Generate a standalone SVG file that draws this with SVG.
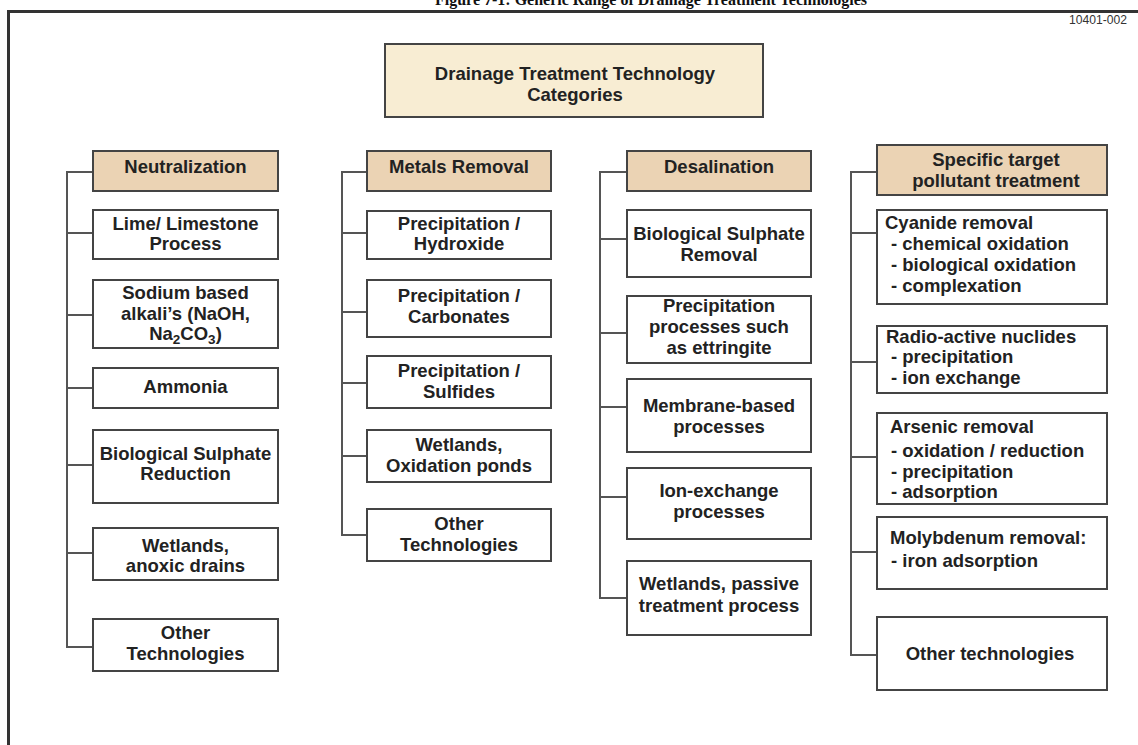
<svg xmlns="http://www.w3.org/2000/svg" width="1138" height="745" viewBox="0 0 1138 745">
<style>
  text { font-family: "Liberation Sans", Arial, sans-serif; font-weight: bold; fill: #222; }
  .t { font-size: 18.5px; text-anchor: middle; }
  .l { font-size: 18.5px; text-anchor: start; }
  .box { fill: #fff; stroke: #444; stroke-width: 2; }
  .hdr { fill: #EBD3B4; stroke: #444; stroke-width: 2; }
  .top { fill: #F8EDD3; stroke: #444; stroke-width: 2; }
  .conn { fill: none; stroke: #555; stroke-width: 2; }
</style>
<rect x="0" y="0" width="1138" height="745" fill="#fff"/>
<text x="651" y="5" style="font-family:'Liberation Serif','Times New Roman',serif;font-size:16px;text-anchor:middle;fill:#111">Figure 7-1: Generic Range of Drainage Treatment Technologies</text>
<path d="M8.5 745 V11.5 H1138" fill="none" stroke="#333" stroke-width="3"/>
<text x="1127" y="24" style="font-weight:normal;font-size:12px;text-anchor:end;fill:#333" textLength="58" lengthAdjust="spacingAndGlyphs">10401-002</text>

<g id="connectors">
  <path class="conn" d="M93 172 H67 V647 H93 M67 233 H93 M67 315 H93 M67 388 H93 M67 465 H93 M67 553 H93"/>
  <path class="conn" d="M367 172 H342 V535 H367 M342 233 H367 M342 312 H367 M342 383 H367 M342 456 H367"/>
  <path class="conn" d="M627 172 H600 V598 H627 M600 239 H627 M600 333 H627 M600 407 H627 M600 497 H627"/>
  <path class="conn" d="M877 172 H851 V655 H877 M851 233 H877 M851 362 H877 M851 457 H877 M851 552 H877"/>
</g>

<g id="root">
  <rect class="top" x="385" y="44" width="378" height="73"/>
  <text class="t" x="575" y="80">Drainage Treatment Technology</text>
  <text class="t" x="575" y="101">Categories</text>
</g>

<!-- Column 1 -->
<g id="neutralization">
  <rect class="hdr" x="93" y="151" width="185" height="40"/>
  <text class="t" x="185.5" y="173">Neutralization</text>
</g>
<g id="lime">
  <rect class="box" x="93" y="210" width="185" height="49"/>
  <text class="t" x="185.5" y="230">Lime/ Limestone</text>
  <text class="t" x="185.5" y="250">Process</text>
</g>
<g id="sodium">
  <rect class="box" x="93" y="280" width="185" height="68"/>
  <text class="t" x="185.5" y="299">Sodium based</text>
  <text class="t" x="185.5" y="320">alkali’s (NaOH,</text>
  <text class="t" x="185.5" y="340">Na<tspan font-size="13.5" dy="4">2</tspan><tspan dy="-4">CO</tspan><tspan font-size="13.5" dy="4">3</tspan><tspan dy="-4">)</tspan></text>
</g>
<g id="ammonia">
  <rect class="box" x="93" y="368" width="185" height="40"/>
  <text class="t" x="185.5" y="393">Ammonia</text>
</g>
<g id="bsr">
  <rect class="box" x="93" y="430" width="185" height="73"/>
  <text class="t" x="185.5" y="460">Biological Sulphate</text>
  <text class="t" x="185.5" y="480">Reduction</text>
</g>
<g id="wetlands1">
  <rect class="box" x="93" y="528" width="185" height="52"/>
  <text class="t" x="185.5" y="552">Wetlands,</text>
  <text class="t" x="185.5" y="572">anoxic drains</text>
</g>
<g id="other1">
  <rect class="box" x="93" y="619" width="185" height="52"/>
  <text class="t" x="185.5" y="639">Other</text>
  <text class="t" x="185.5" y="660">Technologies</text>
</g>

<!-- Column 2 -->
<g id="metals">
  <rect class="hdr" x="367" y="151" width="184" height="40"/>
  <text class="t" x="459" y="173">Metals Removal</text>
</g>
<g id="hydroxide">
  <rect class="box" x="367" y="211" width="184" height="48"/>
  <text class="t" x="459" y="230">Precipitation /</text>
  <text class="t" x="459" y="250">Hydroxide</text>
</g>
<g id="carbonates">
  <rect class="box" x="367" y="280" width="184" height="57"/>
  <text class="t" x="459" y="302">Precipitation /</text>
  <text class="t" x="459" y="323">Carbonates</text>
</g>
<g id="sulfides">
  <rect class="box" x="367" y="356" width="184" height="52"/>
  <text class="t" x="459" y="377">Precipitation /</text>
  <text class="t" x="459" y="398">Sulfides</text>
</g>
<g id="wetlands2">
  <rect class="box" x="367" y="430" width="184" height="52"/>
  <text class="t" x="459" y="451">Wetlands,</text>
  <text class="t" x="459" y="472">Oxidation ponds</text>
</g>
<g id="other2">
  <rect class="box" x="367" y="509" width="184" height="52"/>
  <text class="t" x="459" y="530">Other</text>
  <text class="t" x="459" y="551">Technologies</text>
</g>

<!-- Column 3 -->
<g id="desalination">
  <rect class="hdr" x="627" y="151" width="184" height="40"/>
  <text class="t" x="719" y="173">Desalination</text>
</g>
<g id="bsremoval">
  <rect class="box" x="627" y="210" width="184" height="67"/>
  <text class="t" x="719" y="240">Biological Sulphate</text>
  <text class="t" x="719" y="261">Removal</text>
</g>
<g id="ettringite">
  <rect class="box" x="627" y="296" width="184" height="67"/>
  <text class="t" x="719" y="312">Precipitation</text>
  <text class="t" x="719" y="333">processes such</text>
  <text class="t" x="719" y="354">as ettringite</text>
</g>
<g id="membrane">
  <rect class="box" x="627" y="379" width="184" height="73"/>
  <text class="t" x="719" y="412">Membrane-based</text>
  <text class="t" x="719" y="433">processes</text>
</g>
<g id="ionexchange">
  <rect class="box" x="627" y="468" width="184" height="71"/>
  <text class="t" x="719" y="497">Ion-exchange</text>
  <text class="t" x="719" y="518">processes</text>
</g>
<g id="wetlands3">
  <rect class="box" x="627" y="561" width="184" height="74"/>
  <text class="t" x="719" y="590">Wetlands, passive</text>
  <text class="t" x="719" y="612">treatment process</text>
</g>

<!-- Column 4 -->
<g id="specific">
  <rect class="hdr" x="877" y="145" width="230" height="50"/>
  <text class="t" x="996" y="166">Specific target</text>
  <text class="t" x="996" y="187">pollutant treatment</text>
</g>
<g id="cyanide">
  <rect class="box" x="877" y="210" width="230" height="94"/>
  <text class="l" x="885" y="229">Cyanide removal</text>
  <text class="l" x="891" y="250">- chemical oxidation</text>
  <text class="l" x="891" y="271">- biological oxidation</text>
  <text class="l" x="891" y="292">- complexation</text>
</g>
<g id="radio">
  <rect class="box" x="877" y="326" width="230" height="67"/>
  <text class="l" x="886" y="343">Radio-active nuclides</text>
  <text class="l" x="891" y="363">- precipitation</text>
  <text class="l" x="891" y="384">- ion exchange</text>
</g>
<g id="arsenic">
  <rect class="box" x="877" y="413" width="230" height="91"/>
  <text class="l" x="890" y="433">Arsenic removal</text>
  <text class="l" x="891" y="457">- oxidation / reduction</text>
  <text class="l" x="891" y="478">- precipitation</text>
  <text class="l" x="891" y="498">- adsorption</text>
</g>
<g id="molybdenum">
  <rect class="box" x="877" y="517" width="230" height="72"/>
  <text class="l" x="890" y="544">Molybdenum removal:</text>
  <text class="l" x="891" y="567">- iron adsorption</text>
</g>
<g id="other4">
  <rect class="box" x="877" y="617" width="230" height="73"/>
  <text class="t" x="990" y="660">Other technologies</text>
</g>
</svg>
